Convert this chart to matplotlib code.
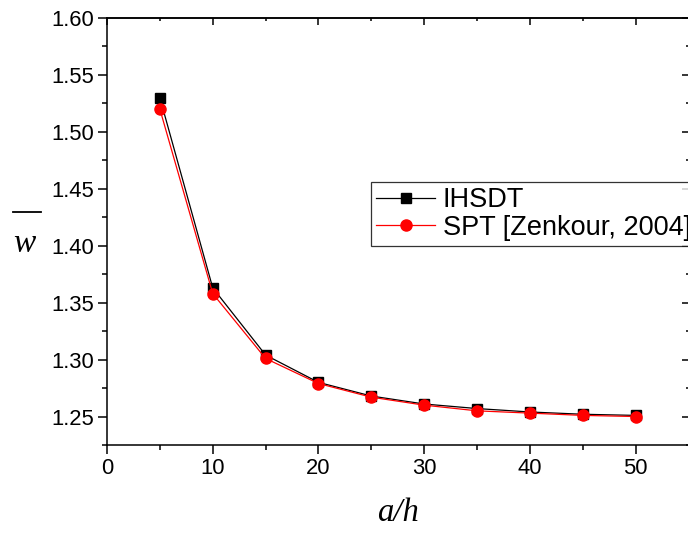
import matplotlib
matplotlib.use("Agg")
import matplotlib.pyplot as plt
from matplotlib.lines import Line2D
from matplotlib.ticker import MultipleLocator

# data
a_h = [5, 10, 15, 20, 25, 30, 35, 40, 45, 50]
w_ihsdt = [1.530, 1.363, 1.304, 1.280, 1.268, 1.261, 1.257, 1.254, 1.252, 1.251]
w_spt = [1.520, 1.358, 1.301, 1.279, 1.267, 1.260, 1.255, 1.253, 1.251, 1.250]
series_labels = ["IHSDT", "SPT [Zenkour, 2004]"]

W, H = 688, 533
plt.rcParams['font.family'] = ['Liberation Sans', 'DejaVu Sans']

fig = plt.figure(figsize=(W / 100, H / 100), dpi=100)
ax = fig.add_axes([107 / W, 1 - 445 / H, (688.5 - 107) / W, (445 - 18) / H])

ax.plot(a_h, w_ihsdt, color='black', lw=0.9, marker='s', ms=6.5,
        mec='black', mfc='black', label=series_labels[0], zorder=3)
ax.plot(a_h, w_spt, color='red', lw=0.9, marker='o', ms=8,
        mec='red', mfc='red', label=series_labels[1], zorder=4)

ax.set_xlim(0, 55)
ax.set_ylim(1.225, 1.60)
ax.xaxis.set_major_locator(MultipleLocator(10))
ax.xaxis.set_minor_locator(MultipleLocator(5))
ax.yaxis.set_major_locator(MultipleLocator(0.05))
ax.yaxis.set_minor_locator(MultipleLocator(0.025))
ax.yaxis.set_major_formatter(matplotlib.ticker.FormatStrFormatter('%.2f'))

for s in ax.spines.values():
    s.set_linewidth(1.1)

ax.tick_params(which='both', direction='out', labelsize=15.8, width=1.1,
               top=False, right=False, pad=3)
ax.tick_params(which='major', length=6.5)
ax.tick_params(which='minor', length=3.5)

# inward ticks on top and right, no labels
for side in ('top', 'right'):
    sec = ax.secondary_xaxis('top') if side == 'top' else ax.secondary_yaxis('right')
    if side == 'top':
        sec.xaxis.set_major_locator(MultipleLocator(10))
        sec.xaxis.set_minor_locator(MultipleLocator(5))
    else:
        sec.yaxis.set_major_locator(MultipleLocator(0.05))
        sec.yaxis.set_minor_locator(MultipleLocator(0.025))
    sec.tick_params(which='both', direction='in', width=1.1, labelsize=0,
                    labeltop=False, labelright=False)
    sec.tick_params(which='major', length=5)
    sec.tick_params(which='minor', length=2.5)
    for s in sec.spines.values():
        s.set_linewidth(1.1)

ax.set_xlabel('a/h', family='Liberation Serif', style='italic', fontsize=23.5,
              labelpad=13)

# y label: italic w with a bar drawn well above it
fig.text(24 / W, 1 - 244 / H, 'w', family='Liberation Serif', style='italic',
         fontsize=24, ha='center', va='center')
fig.add_artist(Line2D([13 / W, 41 / W], [1 - 212 / H, 1 - 212 / H],
                      transform=fig.transFigure, color='black', lw=1.3))

leg = ax.legend(loc='upper left', bbox_to_anchor=(371 / W, 1 - 182 / H),
                bbox_transform=fig.transFigure, fontsize=19.5, frameon=True,
                fancybox=False, edgecolor='black', borderaxespad=0,
                borderpad=0.2, labelspacing=0.05, handlelength=2.15,
                handletextpad=0.3)
leg.get_frame().set_linewidth(0.9)

fig.savefig('out.png', dpi=100)
